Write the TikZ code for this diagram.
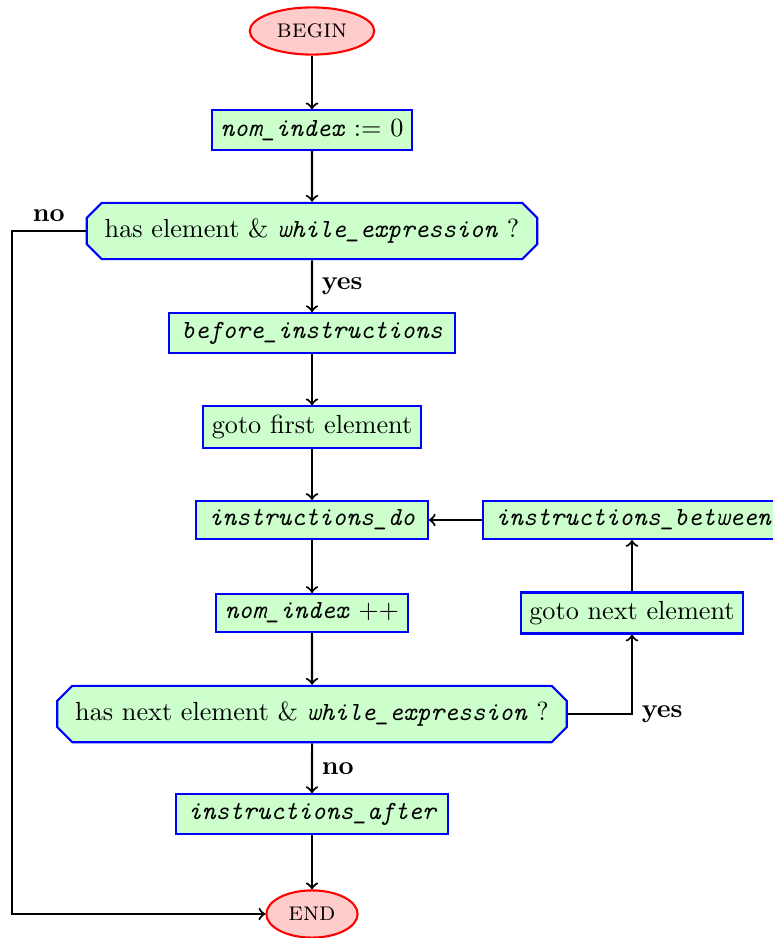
\documentclass[tikz,border=0pt]{standalone}
\usepackage{fontspec}
\usetikzlibrary{shapes.geometric,shapes.misc}

\begin{document}
\begin{tikzpicture}[x=0.01342cm,y=-0.01342cm,
      term/.style={ellipse,draw=red,thick,fill=red!20,minimum height=18pt},
      box/.style={rectangle,draw=blue,thick,fill=green!20},
      code/.style={box,inner xsep=4.8pt,font=\ttfamily\itshape},
      test/.style={chamfered rectangle,draw=blue,thick,fill=green!20,inner xsep=4pt,inner ysep=3.2pt},
      flow/.style={->,thick}]
      \useasboundingbox (0,0) rectangle (772,938);
      \node[term] (begin) at (312,31) {\textsc{begin}};
      \node[box] (init) at (312,130) {\texttt{\itshape nom\_index} := 0};
      \node[test] (hasfirst) at (312,231) {has element \& \texttt{\itshape while\_expression} ?};
      \node[code] (before) at (312,333) {before\_instructions};
      \node[box] (first) at (312,427) {goto first element};
      \node[code] (do) at (312,520) {instructions\_do};
      \node[code,anchor=west] (between) at (482,520) {instructions\_between};
      \node[box] (incr) at (312,613) {\texttt{\itshape nom\_index} ++};
      \node[box] (next) at (632,613) {goto next element};
      \node[test] (hasnext) at (312,714) {has next element \& \texttt{\itshape while\_expression} ?};
      \node[code] (after) at (312,814) {instructions\_after};
      \node[term] (end) at (312,914) {\textsc{end}};
      \coordinate (left) at (12,231);
      \draw[flow] (begin) -- (init);
      \draw[flow] (init) -- (hasfirst);
      \draw[flow] (hasfirst) -- node[right]{\textbf{yes}} (before);
      \draw[flow] (before) -- (first);
      \draw[flow] (first) -- (do);
      \draw[flow] (do) -- (incr);
      \draw[flow] (incr) -- (hasnext);
      \draw[flow] (hasnext) -- node[right]{\textbf{no}} (after);
      \draw[flow] (after) -- (end);
      \draw[flow] (hasnext.east) -| node[pos=0.5,right]{\textbf{yes}} (next.south);
      \draw[flow] (next) -- (next |- between.south);
      \draw[flow] (between) -- (do);
      \draw[flow] (hasfirst.west) -- node[above]{\textbf{no}} (left) |- (end.west);
    \end{tikzpicture}
\end{document}
